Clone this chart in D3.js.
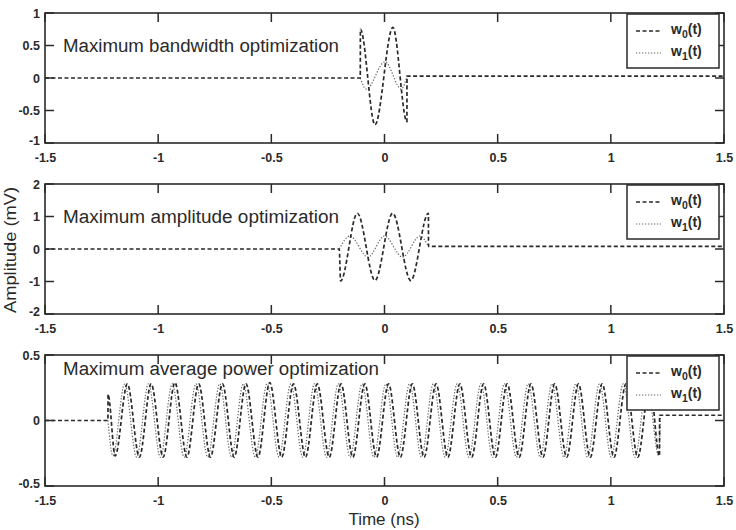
<!DOCTYPE html>
<html><head><meta charset="utf-8">
<script src="https://cdn.jsdelivr.net/npm/d3@7"></script>
<style>body{margin:0;background:#fff}</style>
</head><body><svg id="c" width="736" height="530"></svg>
<script>
// ---------- data ----------
const xTicks = [-1.5, -1, -0.5, 0, 0.5, 1, 1.5];
const xTickLabels = ["-1.5", "-1", "-0.5", "0", "0.5", "1", "1.5"];
const titles = ["Maximum bandwidth optimization", "Maximum amplitude optimization", "Maximum average power optimization"];
const seriesNames = ["w0(t)", "w1(t)"];
const yDomain1 = [-1, 1], yTicks1 = [-1, -0.5, 0, 0.5, 1], yLabels1 = ["-1", "-0.5", "0", "0.5", "1"];
const yDomain2 = [-2, 2], yTicks2 = [-2, -1, 0, 1, 2], yLabels2 = ["-2", "-1", "0", "1", "2"];
const yDomain3 = [-0.5, 0.5], yTicks3 = [-0.5, 0, 0.5], yLabels3 = ["-0.5", "0", "0.5"];

// panel 1 : maximum bandwidth
const p1_w0_t = [-1.5, -0.107, -0.1065, -0.042, 0.037, 0.099, 0.0995, 1.5];
const p1_w0_v = [0, 0, 0.75, -0.72, 0.78, -0.67, 0.03, 0.03];
const p1_w1_t = [-0.107, -0.08, 0.002, 0.074, 0.1];
const p1_w1_v = [0, -0.17, 0.25, -0.17, 0.03];

// panel 2 : maximum amplitude
const p2_w0_t = [-1.5, -0.2, -0.194, -0.12, -0.042, 0.036, 0.116, 0.194, 0.1945, 1.5];
const p2_w0_v = [0, 0, -0.98, 1.1, -0.97, 1.1, -0.97, 1.1, 0.08, 0.08];
const p2_w1_t = [-0.2, -0.153, -0.073, 0.0, 0.08, 0.157, 0.194];
const p2_w1_v = [0, 0.4, -0.25, 0.4, -0.25, 0.4, 0.08];

// panel 3 : maximum average power (extrema)
const p3_w0_t = [-1.5, -1.222, -1.2215, -1.19, -1.136, -1.083, -1.031, -0.978, -0.926, -0.873, -0.821, -0.769, -0.716, -0.664, -0.612, -0.559, -0.507, -0.454, -0.402, -0.349, -0.297, -0.244, -0.192, -0.140, -0.087, -0.035, 0.018, 0.070, 0.123, 0.175, 0.228, 0.280, 0.333, 0.385, 0.438, 0.490, 0.542, 0.595, 0.647, 0.700, 0.752, 0.805, 0.857, 0.909, 0.962, 1.014, 1.067, 1.119, 1.172, 1.215, 1.2155, 1.5];
const p3_w0_v = [0, 0, 0.2, -0.27, 0.28, -0.28, 0.28, -0.28, 0.29, -0.28, 0.28, -0.28, 0.28, -0.28, 0.28, -0.28, 0.29, -0.28, 0.28, -0.28, 0.28, -0.28, 0.28, -0.28, 0.28, -0.28, 0.28, -0.28, 0.28, -0.28, 0.28, -0.28, 0.28, -0.28, 0.28, -0.28, 0.28, -0.28, 0.28, -0.28, 0.28, -0.28, 0.28, -0.28, 0.28, -0.28, 0.28, -0.28, 0.28, -0.27, 0.04, 0.04];
const p3_w1_t = [-1.222, -1.200, -1.148, -1.095, -1.043, -0.990, -0.938, -0.885, -0.833, -0.781, -0.728, -0.676, -0.624, -0.571, -0.519, -0.466, -0.414, -0.361, -0.309, -0.256, -0.204, -0.152, -0.099, -0.047, 0.006, 0.058, 0.111, 0.163, 0.216, 0.268, 0.321, 0.373, 0.426, 0.478, 0.530, 0.583, 0.635, 0.688, 0.740, 0.793, 0.845, 0.897, 0.950, 1.002, 1.055, 1.107, 1.160, 1.212, 1.219];
const p3_w1_v = [0, -0.27, 0.28, -0.28, 0.28, -0.28, 0.28, -0.28, 0.28, -0.28, 0.28, -0.28, 0.28, -0.28, 0.28, -0.28, 0.28, -0.28, 0.28, -0.28, 0.28, -0.28, 0.28, -0.28, 0.28, -0.28, 0.28, -0.28, 0.28, -0.28, 0.28, -0.28, 0.28, -0.28, 0.28, -0.28, 0.28, -0.28, 0.28, -0.28, 0.28, -0.28, 0.28, -0.28, 0.28, -0.28, 0.28, -0.27, 0.04];

// ---------- drawing ----------
const svg = d3.select("#c");
const X0 = 45, X1 = 724;
const panels = [
  {top: 13, bottom: 143, dom: yDomain1, ticks: yTicks1, labels: yLabels1, title: titles[0],
   w0: [p1_w0_t, p1_w0_v], w1: [p1_w1_t, p1_w1_v], titleY: 0.5, titleW: 276},
  {top: 184, bottom: 314, dom: yDomain2, ticks: yTicks2, labels: yLabels2, title: titles[1],
   w0: [p2_w0_t, p2_w0_v], w1: [p2_w1_t, p2_w1_v], titleY: 1, titleW: 276},
  {top: 355, bottom: 486, dom: yDomain3, ticks: yTicks3, labels: yLabels3, title: titles[2],
   w0: [p3_w0_t, p3_w0_v], w1: [p3_w1_t, p3_w1_v], titleY: 0.4, titleW: 316}
];
const ink = "#2a2a2a";
const tickFont = "'Liberation Sans Narrow','Liberation Sans',Arial,sans-serif";
const x = d3.scaleLinear().domain([-1.5, 1.5]).range([X0, X1]);

panels.forEach((p, i) => {
  const y = d3.scaleLinear().domain(p.dom).range([p.bottom, p.top]);
  const g = svg.append("g");
  const H = p.bottom - p.top;

  // lines
  const line = d3.line().x(d => x(d[0])).y(d => y(d[1])).curve(d3.curveMonotoneX);
  const w1 = p.w1[0].map((t, k) => [t, p.w1[1][k]]);
  const w0 = p.w0[0].map((t, k) => [t, p.w0[1][k]]);
  g.append("path").attr("d", line(w1)).attr("fill", "none")
    .attr("stroke", "#666").attr("stroke-width", 1.2).attr("stroke-dasharray", "1.3,1.7");
  g.append("path").attr("d", line(w0)).attr("fill", "none")
    .attr("stroke", ink).attr("stroke-width", 1.7).attr("stroke-dasharray", "4,2.5");

  // axes (MATLAB style, inward ticks, box)
  const tl = 9;
  const axB = d3.axisBottom(x).tickValues(xTicks).tickSize(0).tickFormat((d, k) => xTickLabels[k]);
  const gb = g.append("g").attr("transform", `translate(0,${p.bottom + 5})`).call(axB);
  gb.select(".domain").remove();
  gb.selectAll("text").attr("dy", "0.9em").attr("font-family", tickFont).attr("font-weight", "bold")
    .attr("font-size", 12.5).attr("fill", ink);
  const axL = d3.axisLeft(y).tickValues(p.ticks).tickSize(0).tickFormat((d, k) => p.labels[k]);
  const gl = g.append("g").attr("transform", `translate(${X0},0)`).call(axL);
  gl.select(".domain").remove();
  gl.selectAll("text").attr("x", -5).attr("font-family", tickFont).attr("font-weight", "bold")
    .attr("font-size", 12.5).attr("fill", ink)
    .attr("dy", (d, k) => k === 0 ? "0.1em" : "0.32em");

  // tick marks
  xTicks.forEach(t => {
    g.append("line").attr("x1", x(t)).attr("x2", x(t)).attr("y1", p.bottom).attr("y2", p.bottom - tl)
      .attr("stroke", ink).attr("stroke-width", 1.5);
    g.append("line").attr("x1", x(t)).attr("x2", x(t)).attr("y1", p.top).attr("y2", p.top + tl)
      .attr("stroke", ink).attr("stroke-width", 1.5);
  });
  p.ticks.forEach(t => {
    g.append("line").attr("x1", X0).attr("x2", X0 + tl).attr("y1", y(t)).attr("y2", y(t))
      .attr("stroke", ink).attr("stroke-width", 1.5);
    g.append("line").attr("x1", X1).attr("x2", X1 - tl).attr("y1", y(t)).attr("y2", y(t))
      .attr("stroke", ink).attr("stroke-width", 1.5);
  });
  g.append("rect").attr("x", X0).attr("y", p.top).attr("width", X1 - X0).attr("height", H)
    .attr("fill", "none").attr("stroke", ink).attr("stroke-width", 1.6);

  // title
  g.append("text").attr("x", 63).attr("y", y(p.titleY)).attr("dy", "0.36em")
    .attr("font-family", "'Liberation Sans',Arial,sans-serif").attr("font-size", 18)
    .attr("textLength", p.titleW).attr("lengthAdjust", "spacingAndGlyphs")
    .attr("fill", ink).text(p.title);

  // legend
  const lx = 627, ly = p.top + 1, lw = 92, lh = 54;
  g.append("rect").attr("x", lx).attr("y", ly).attr("width", lw).attr("height", lh)
    .attr("fill", "#fff").attr("stroke", ink).attr("stroke-width", 1.5);
  seriesNames.forEach((s, k) => {
    const ry = ly + 16 + k * 22;
    g.append("line").attr("x1", lx + 9).attr("x2", lx + 34).attr("y1", ry + 1).attr("y2", ry + 1)
      .attr("stroke", k === 0 ? ink : "#666").attr("stroke-width", k === 0 ? 1.7 : 1.2)
      .attr("stroke-dasharray", k === 0 ? "4,2.5" : "1.3,1.7");
    const tx = g.append("text").attr("x", lx + 44).attr("y", ry + 4)
      .attr("font-family", tickFont).attr("font-weight", "bold").attr("font-size", 14).attr("fill", ink);
    tx.append("tspan").text(s.slice(0, 1));
    tx.append("tspan").attr("font-size", 10.5).attr("dy", 4).text(s.slice(1, 2));
    tx.append("tspan").attr("dy", -4).text(s.slice(2));
  });
});

// axis titles
svg.append("text").attr("transform", "translate(16,250) rotate(-90)").attr("text-anchor", "middle")
  .attr("font-family", "'Liberation Sans',Arial,sans-serif").attr("font-size", 16).attr("fill", ink)
  .attr("textLength", 126).attr("lengthAdjust", "spacingAndGlyphs").text("Amplitude (mV)");
svg.append("text").attr("x", 384).attr("y", 525).attr("text-anchor", "middle")
  .attr("font-family", "'Liberation Sans',Arial,sans-serif").attr("font-size", 17).attr("fill", ink)
  .text("Time (ns)");
</script></body></html>
